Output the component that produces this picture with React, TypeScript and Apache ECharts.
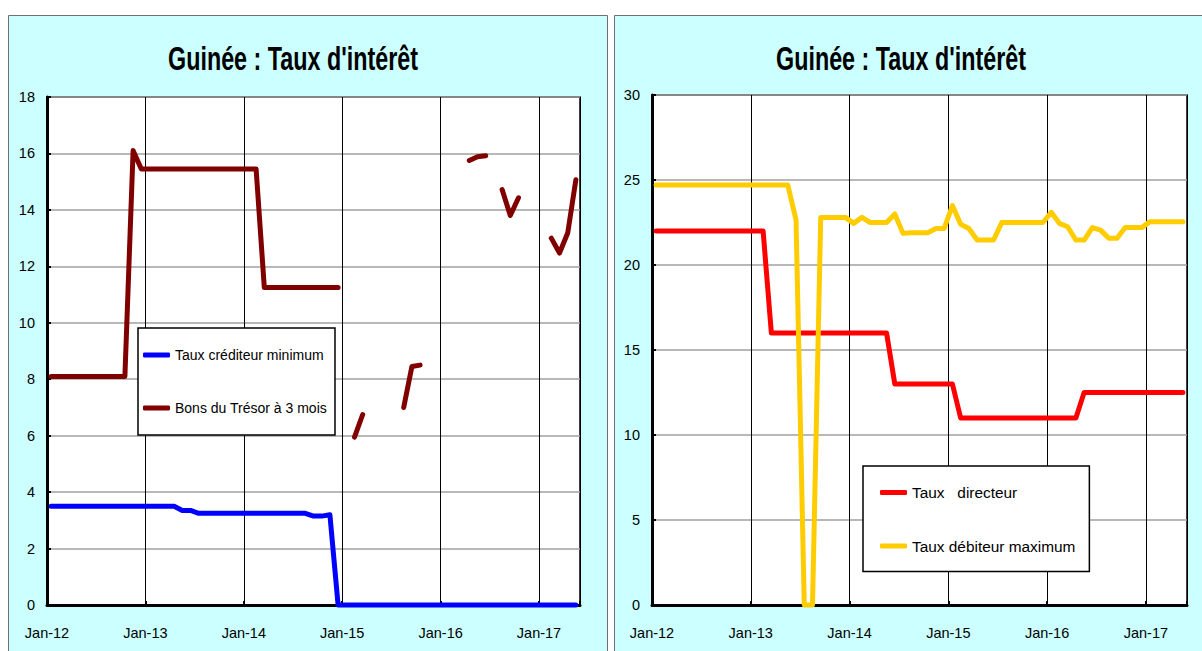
import React, { useEffect, useRef } from "react";
import * as echarts from "echarts";

// Monthly observations Jan-12 .. May-17 (65 months), plotted mid-month
const monthsCount = 65;
const yearLabels = ["Jan-12", "Jan-13", "Jan-14", "Jan-15", "Jan-16", "Jan-17"];

// Left chart
const tauxCrediteurMin: (number | null)[] = [
  3.5, 3.5, 3.5, 3.5, 3.5, 3.5, 3.5, 3.5, 3.5, 3.5, 3.5, 3.5, 3.5, 3.5, 3.5, 3.5,
  3.35, 3.35,
  3.25, 3.25, 3.25, 3.25, 3.25, 3.25, 3.25, 3.25, 3.25, 3.25, 3.25, 3.25, 3.25, 3.25,
  3.15, 3.15, 3.2,
  0, 0, 0, 0, 0, 0, 0, 0, 0, 0, 0, 0, 0, 0, 0, 0, 0, 0, 0, 0, 0, 0, 0, 0, 0, 0, 0, 0, 0, 0,
];
const bonsTresor3m: (number | null)[] = [
  8.1, 8.1, 8.1, 8.1, 8.1, 8.1, 8.1, 8.1, 8.1, 8.1,
  16.1,
  15.45, 15.45, 15.45, 15.45, 15.45, 15.45, 15.45, 15.45, 15.45, 15.45, 15.45, 15.45, 15.45, 15.45, 15.45,
  11.25, 11.25, 11.25, 11.25, 11.25, 11.25, 11.25, 11.25, 11.25, 11.25,
  null, 5.95, 6.75,
  null, null, null, null,
  7.0, 8.45, 8.5,
  null, null, null, null, null,
  15.75, 15.88, 15.92,
  null,
  14.72, 13.8, 14.43,
  null, null, null,
  13.0, 12.47, 13.18, 15.07,
];

// Right chart
const tauxDirecteur: (number | null)[] = [
  22, 22, 22, 22, 22, 22, 22, 22, 22, 22, 22, 22, 22, 22,
  16, 16, 16, 16, 16, 16, 16, 16, 16, 16, 16, 16, 16, 16, 16,
  13, 13, 13, 13, 13, 13, 13, 13,
  11, 11, 11, 11, 11, 11, 11, 11, 11, 11, 11, 11, 11, 11, 11,
  12.5, 12.5, 12.5, 12.5, 12.5, 12.5, 12.5, 12.5, 12.5, 12.5, 12.5, 12.5, 12.5,
];
const tauxDebiteurMax: (number | null)[] = [
  24.7, 24.7, 24.7, 24.7, 24.7, 24.7, 24.7, 24.7, 24.7, 24.7, 24.7, 24.7, 24.7, 24.7, 24.7, 24.7, 24.7,
  22.65, 0, 0, 22.8, 22.8, 22.8, 22.8, 22.45, 22.8, 22.5, 22.5, 22.5, 23.0, 21.86, 21.9, 21.9, 21.9,
  22.15, 22.15, 23.5, 22.4, 22.15, 21.47, 21.47, 21.47,
  22.5, 22.5, 22.5, 22.5, 22.5, 22.5,
  23.1, 22.45, 22.25, 21.47, 21.47, 22.2, 22.05, 21.57, 21.57, 22.2, 22.2, 22.2,
  22.55, 22.55, 22.55, 22.55, 22.55,
];

const seriesNames = {
  crediteur: "Taux créditeur minimum",
  bons: "Bons du Trésor à 3 mois",
  directeur: "Taux   directeur",
  debiteur: "Taux débiteur maximum",
};
const titleText = "Guinée : Taux d'intérêt";

const FONT = "'Liberation Sans Narrow', 'Arial Narrow', 'Liberation Sans', Arial, sans-serif";

const toPairs = (arr: (number | null)[]) => arr.map((v, i) => [i + 0.5, v]);

function measure(text: string, font: string) {
  const c = document.createElement("canvas").getContext("2d");
  if (!c) return 0;
  c.font = font;
  return c.measureText(text).width;
}

const xAxisCfg = (gridIndex: number) => ({
  type: "value",
  gridIndex,
  min: 0,
  max: monthsCount,
  interval: 12,
  axisLine: { show: true, onZero: false, lineStyle: { color: "#000", width: 3 } },
  axisTick: { show: true, inside: true, length: 4, lineStyle: { color: "#000", width: 2 } },
  axisLabel: {
    margin: 20,
    fontSize: 14.5,
    fontFamily: FONT,
    color: "#000",
    formatter: (v: number) => (v % 12 === 0 ? yearLabels[v / 12] ?? "" : ""),
  },
  splitLine: { show: true, lineStyle: { color: "#000", width: 1 } },
});

const yAxisCfg = (gridIndex: number, max: number, interval: number) => ({
  type: "value",
  gridIndex,
  min: 0,
  max,
  interval,
  axisLine: { show: true, lineStyle: { color: "#000", width: 3 } },
  axisTick: { show: true, inside: true, length: 4, lineStyle: { color: "#000", width: 2 } },
  axisLabel: { margin: 12, fontSize: 14.5, fontFamily: FONT, color: "#000" },
  splitLine: { show: true, lineStyle: { color: "#a0a0a0", width: 1.5 } },
});

const lineSeries = (name: string, data: (number | null)[], color: string, idx: number) => ({
  type: "line",
  name,
  xAxisIndex: idx,
  yAxisIndex: idx,
  data: toPairs(data),
  symbol: "none",
  showSymbol: false,
  clip: false,
  connectNulls: false,
  color,
  lineStyle: { color, width: 5, cap: "round", join: "round" },
  emphasis: { disabled: true },
});

export default function App() {
  const ref = useRef<HTMLDivElement>(null);

  useEffect(() => {
    if (!ref.current) return;
    const chart = echarts.init(ref.current, undefined, { renderer: "svg" });
    const titleFont = `bold 34px ${FONT}`;
    const tw = measure(titleText, titleFont) || 250;
    const titleScale = 250 / tw;

    const mkTitle = (x: number) => ({
      type: "text",
      x,
      y: 58,
      scaleX: titleScale,
      z: 10,
      style: {
        text: titleText,
        x: 0,
        y: 0,
        textAlign: "center",
        textVerticalAlign: "middle",
        font: titleFont,
        fill: "#000",
      },
    });

    const legendCommon = {
      orient: "vertical",
      icon: "roundRect",
      itemWidth: 27,
      itemHeight: 5,
      borderColor: "#000",
      borderWidth: 1.5,
      borderRadius: 0,
      backgroundColor: "#fff",
      selectedMode: false,
      z: 20,
    };

    chart.setOption({
      animation: false,
      backgroundColor: "#fff",
      graphic: [
        {
          type: "rect",
          z: -10,
          shape: { x: 8.5, y: 15.5, width: 599, height: 660 },
          style: { fill: "#ccffff", stroke: "#707070", lineWidth: 1 },
        },
        {
          type: "rect",
          z: -10,
          shape: { x: 614.5, y: 15.5, width: 620, height: 660 },
          style: { fill: "#ccffff", stroke: "#707070", lineWidth: 1 },
        },
        mkTitle(293),
        mkTitle(901),
      ],
      grid: [
        { left: 47, top: 97, width: 533, height: 508, show: true, backgroundColor: "#fff", borderColor: "#000", borderWidth: 1.5 },
        { left: 652, top: 95, width: 535, height: 510, show: true, backgroundColor: "#fff", borderColor: "#000", borderWidth: 1.5 },
      ],
      xAxis: [xAxisCfg(0), xAxisCfg(1)],
      yAxis: [yAxisCfg(0, 18, 2), yAxisCfg(1, 30, 5)],
      legend: [
        {
          ...legendCommon,
          data: [seriesNames.crediteur, seriesNames.bons],
          left: 138,
          top: 328,
          padding: [20, 8, 20, 5],
          itemGap: 39,
          textStyle: { fontSize: 14, fontFamily: FONT, color: "#000" },
        },
        {
          ...legendCommon,
          data: [seriesNames.directeur, seriesNames.debiteur],
          left: 863,
          top: 466,
          padding: [19, 14, 18, 17],
          itemGap: 38.6,
          textStyle: { fontSize: 15.4, fontFamily: FONT, color: "#000" },
        },
      ],
      series: [
        lineSeries(seriesNames.crediteur, tauxCrediteurMin, "#0000ff", 0),
        lineSeries(seriesNames.bons, bonsTresor3m, "#800000", 0),
        lineSeries(seriesNames.directeur, tauxDirecteur, "#ff0000", 1),
        lineSeries(seriesNames.debiteur, tauxDebiteurMax, "#ffcc00", 1),
      ],
    });
    return () => chart.dispose();
  }, []);

  return (
    <div
      ref={ref}
      style={{ position: "absolute", left: 0, top: 0, width: 1202, height: 651 }}
    />
  );
}
